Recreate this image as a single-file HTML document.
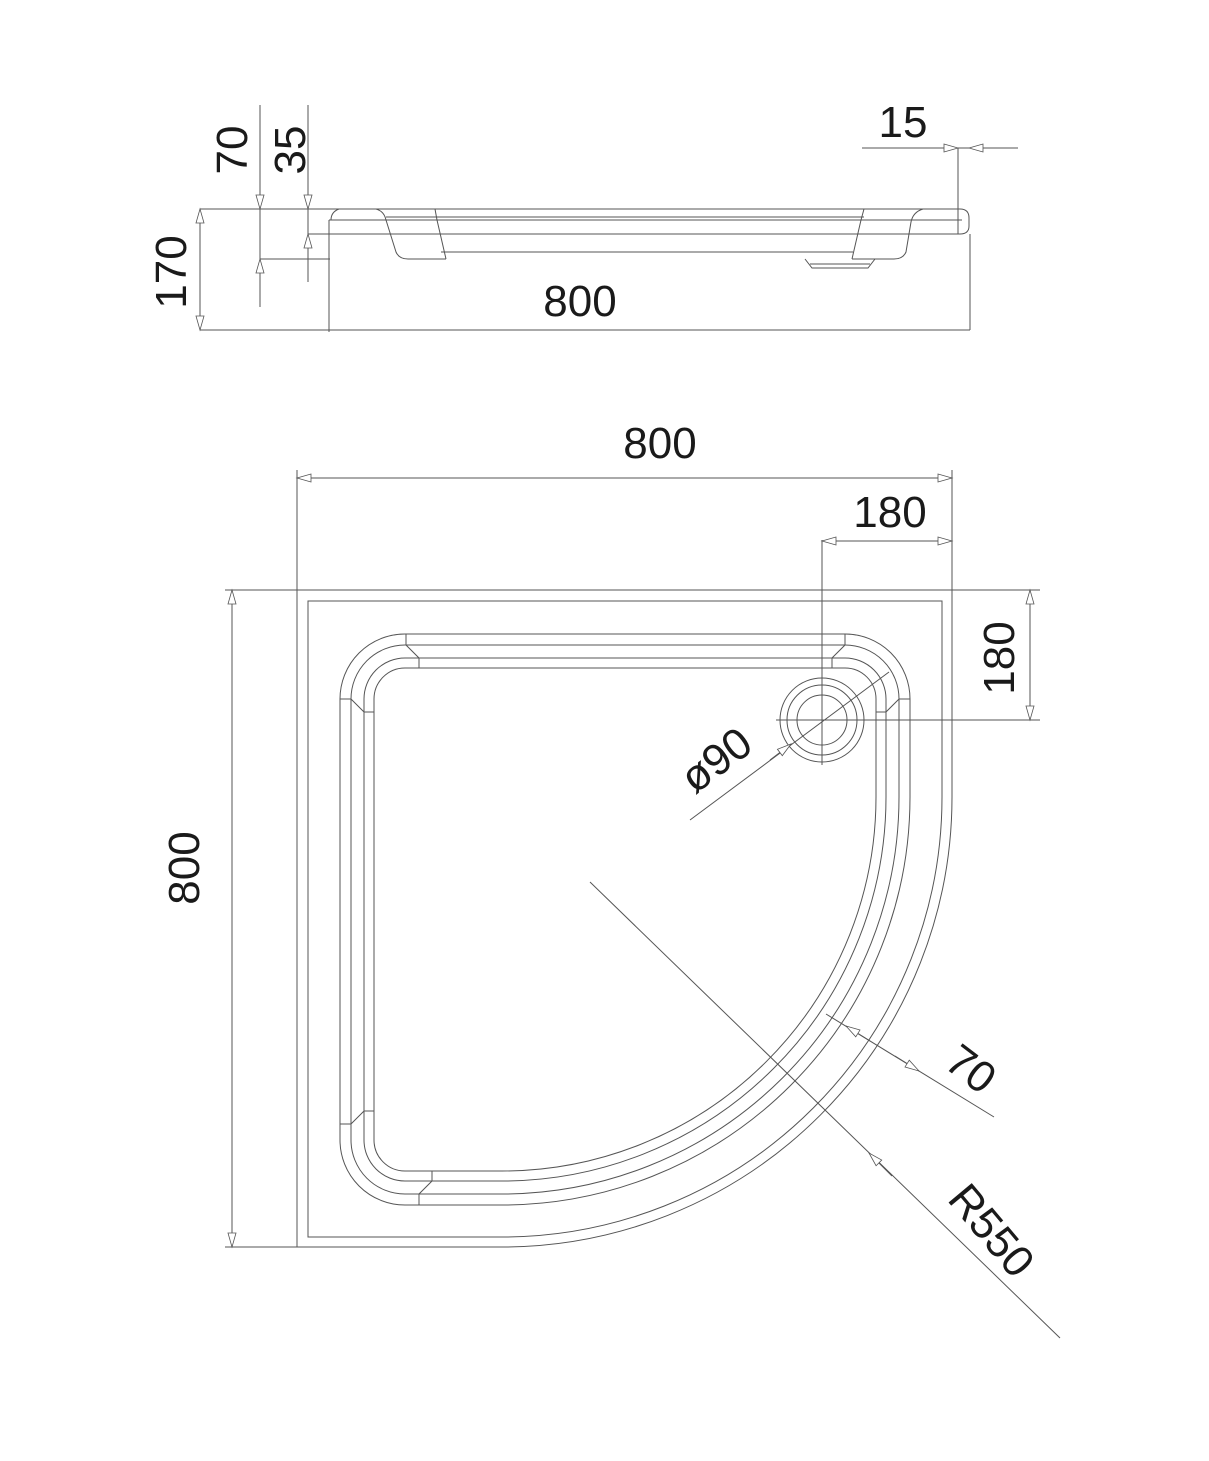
<!DOCTYPE html>
<html><head><meta charset="utf-8"><style>
html,body{margin:0;padding:0;background:#fff}
svg{display:block}
text{font-family:"Liberation Sans",sans-serif;fill:#1a1a1a;font-size:44px}
</style></head><body>
<svg width="1209" height="1461" viewBox="0 0 1209 1461" xmlns="http://www.w3.org/2000/svg">
<defs>
<marker id="a" markerUnits="userSpaceOnUse" markerWidth="20" markerHeight="12" viewBox="-16 -6 20 12" refX="0" refY="0" orient="auto-start-reverse">
<path d="M0,0 L-14,-4 L-14,4 Z" fill="#fff" stroke="#555" stroke-width="0.8"/>
</marker>
</defs>
<g fill="none" stroke="#555" stroke-width="1">
<!-- SIDE VIEW -->
<path d="M200 209 H960 Q969 209 969 218 V226 Q969 234 960 234 H308 V209"/>
<line x1="329" y1="220" x2="962" y2="220"/>
<line x1="329" y1="220" x2="329" y2="332"/>
<line x1="260" y1="259" x2="330" y2="259"/>
<path d="M339 209 Q331 212 331 220"/>
<path d="M376 209 Q384 211 386 220 L396 252 Q399 259 408 259 H446"/>
<path d="M435 209 L437 220 L446 259"/>
<line x1="386" y1="217" x2="864" y2="217"/>
<line x1="441" y1="252" x2="853" y2="252"/>
<path d="M864 209 L861 220 L852 259"/>
<path d="M923 209 Q913 212 911 222 L906 252 Q903 259 894 259 H852"/>
<path d="M805 259 L812 268 H868 L875 259"/>
<line x1="810" y1="264" x2="870" y2="264"/>
<!-- side dims -->
<line x1="200" y1="209" x2="200" y2="330" marker-start="url(#a)" marker-end="url(#a)"/>
<line x1="200" y1="330" x2="970" y2="330"/>
<line x1="970" y1="234" x2="970" y2="330"/>
<line x1="260" y1="105" x2="260" y2="307"/>
<line x1="308" y1="105" x2="308" y2="282"/>
<line x1="260" y1="185" x2="260" y2="209" marker-end="url(#a)"/>
<line x1="260" y1="283" x2="260" y2="259" marker-end="url(#a)"/>
<line x1="308" y1="185" x2="308" y2="209" marker-end="url(#a)"/>
<line x1="308" y1="258" x2="308" y2="234" marker-end="url(#a)"/>
<line x1="862" y1="148" x2="1018" y2="148"/>
<line x1="932" y1="148" x2="958" y2="148" marker-end="url(#a)"/>
<line x1="994" y1="148" x2="969" y2="148" marker-end="url(#a)"/>
<line x1="958" y1="148" x2="958" y2="234"/>
<!-- PLAN -->
<path d="M297 590 H952 V797 A450 450 0 0 1 502 1247 H297 Z"/>
<path d="M308 601 H942 V797 A440 440 0 0 1 502 1237 H308 Z"/>
<path d="M340 699 A65 65 0 0 1 405 634 L845 634 A65 65 0 0 1 910 699 L910 797 A408 408 0 0 1 502 1205 L405 1205 A65 65 0 0 1 340 1140 Z"/>
<path d="M351 699 A54 54 0 0 1 405 645 L845 645 A54 54 0 0 1 899 699 L899 797 A397 397 0 0 1 502 1194 L405 1194 A54 54 0 0 1 351 1140 Z"/>
<path d="M364 699 A41 41 0 0 1 405 658 L845 658 A41 41 0 0 1 886 699 L886 797 A384 384 0 0 1 502 1181 L405 1181 A41 41 0 0 1 364 1140 Z"/>
<path d="M374 699 A31 31 0 0 1 405 668 L845 668 A31 31 0 0 1 876 699 L876 797 A374 374 0 0 1 502 1171 L405 1171 A31 31 0 0 1 374 1140 Z"/>
<!-- chamfer ticks -->
<path d="M406 634 V645 L419 658 V668"/>
<path d="M845 634 V645 L832 658 V668"/>
<path d="M340 699 H351 L364 712 H374"/>
<path d="M910 699 H899 L886 712 H876"/>
<path d="M340 1124 H351 L364 1111 H374"/>
<path d="M419 1205 V1194 L432 1181 V1171"/>
<!-- drain -->
<circle cx="822" cy="720" r="42"/>
<circle cx="822" cy="720" r="35"/>
<circle cx="822" cy="720" r="25"/>
<line x1="822" y1="540" x2="822" y2="765"/>
<line x1="776" y1="720" x2="1040" y2="720"/>
<line x1="690" y1="820" x2="889" y2="672"/>
<line x1="770" y1="760" x2="791" y2="744" marker-end="url(#a)"/>
<!-- plan dims -->
<line x1="297" y1="470" x2="297" y2="590"/>
<line x1="952" y1="470" x2="952" y2="590"/>
<line x1="297" y1="478" x2="952" y2="478" marker-start="url(#a)" marker-end="url(#a)"/>
<line x1="822" y1="541" x2="952" y2="541" marker-start="url(#a)" marker-end="url(#a)"/>
<line x1="952" y1="590" x2="1040" y2="590"/>
<line x1="1030" y1="590" x2="1030" y2="720" marker-start="url(#a)" marker-end="url(#a)"/>
<line x1="225" y1="590" x2="297" y2="590"/>
<line x1="225" y1="1247" x2="297" y2="1247"/>
<line x1="232" y1="590" x2="232" y2="1247" marker-start="url(#a)" marker-end="url(#a)"/>
<line x1="826" y1="1014" x2="994" y2="1117"/>
<line x1="870" y1="1041" x2="846" y2="1026" marker-end="url(#a)"/>
<line x1="895" y1="1056" x2="919" y2="1071" marker-end="url(#a)"/>
<line x1="590" y1="882" x2="1060" y2="1338"/>
<line x1="892" y1="1176" x2="869" y2="1153" marker-end="url(#a)"/>
</g>
<!-- text -->
<text x="580" y="316" text-anchor="middle">800</text>
<text x="903" y="137" text-anchor="middle">15</text>
<text transform="translate(247,150) rotate(-90)" text-anchor="middle">70</text>
<text transform="translate(305,150) rotate(-90)" text-anchor="middle">35</text>
<text transform="translate(186,272) rotate(-90)" text-anchor="middle">170</text>
<text x="660" y="458" text-anchor="middle">800</text>
<text x="890" y="527" text-anchor="middle">180</text>
<text transform="translate(1014,658) rotate(-90)" text-anchor="middle">180</text>
<text transform="translate(199,868) rotate(-90)" text-anchor="middle">800</text>
<text transform="translate(725,772) rotate(-37)" text-anchor="middle">ø90</text>
<text transform="translate(962,1081) rotate(37)" text-anchor="middle">70</text>
<text transform="translate(980,1240) rotate(50)" text-anchor="middle">R550</text>
</svg>
</body></html>
